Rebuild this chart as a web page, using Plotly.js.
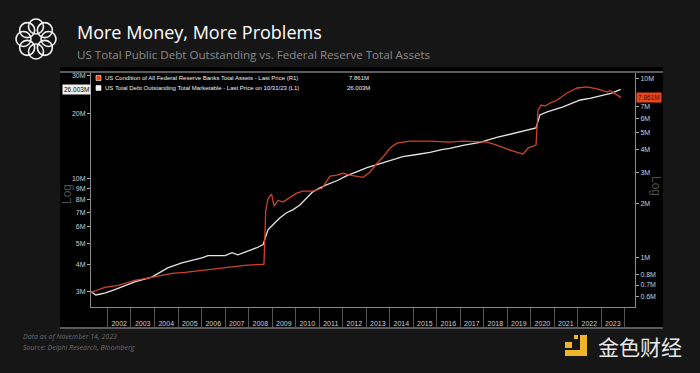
<!DOCTYPE html>
<html>
<head>
<meta charset="utf-8">
<script src="https://cdn.plot.ly/plotly-3.0.1.min.js"></script>
<style>
html,body{margin:0;padding:0;background:#161617;}
#chart{width:700px;height:373px;}
</style>
</head>
<body>
<div id="chart"></div>
<script>
// ---- Data (values in millions of millions, as shown on the chart) ----
const fedDates = ["2001-04-20","2001-11-20","2002-06-15","2003-03-01","2003-11-20","2004-10-01","2005-04-20","2006-01-08","2006-09-10","2007-04-20","2007-11-05","2008-07-25","2008-08-28","2008-09-25","2008-11-01","2008-12-25","2009-02-01","2009-04-05","2009-06-20","2009-10-08","2010-01-20","2010-04-25","2010-09-25","2011-02-15","2011-06-20","2011-10-05","2012-01-08","2012-04-25","2012-08-15","2012-11-15","2013-03-01","2013-06-20","2013-09-20","2014-01-08","2014-04-25","2014-07-25","2014-11-15","2015-09-20","2016-07-25","2017-02-15","2018-02-25","2018-07-25","2019-02-15","2019-07-20","2019-09-05","2019-11-20","2020-02-10","2020-03-25","2020-04-25","2020-06-15","2020-08-15","2020-10-30","2021-02-15","2021-07-20","2021-12-25","2022-05-25","2022-10-30","2023-04-05","2023-05-20","2023-09-05","2023-11-08"];
const fedValues = [0.636,0.678,0.696,0.743,0.772,0.813,0.824,0.845,0.868,0.879,0.902,0.914,0.914,1.836,2.145,2.26,1.935,2.09,2.04,2.17,2.29,2.35,2.35,2.44,2.85,2.89,2.96,2.89,2.85,2.81,3.00,3.37,3.65,4.10,4.37,4.43,4.48,4.48,4.43,4.48,4.43,4.26,3.99,3.84,3.79,4.10,4.20,4.26,6.70,7.14,7.05,7.33,7.62,8.34,8.90,9.02,8.79,8.45,8.62,8.13,7.861];

const debtDates = ["2001-04-20","2001-07-05","2001-11-20","2002-04-25","2003-03-01","2003-11-20","2004-07-25","2005-03-01","2006-01-08","2006-04-10","2007-01-01","2007-04-20","2007-07-20","2008-02-25","2008-05-10","2008-08-15","2008-10-30","2009-01-15","2009-05-05","2009-08-15","2009-11-20","2010-03-10","2010-06-20","2010-09-25","2011-01-15","2011-04-25","2011-10-05","2012-03-10","2012-08-15","2013-01-15","2013-06-20","2014-01-08","2014-07-25","2015-03-01","2015-09-20","2016-04-10","2016-07-25","2017-02-15","2017-11-05","2018-07-25","2019-04-05","2019-12-25","2020-03-25","2020-05-25","2020-09-15","2021-05-20","2022-02-10","2022-07-10","2023-04-05","2023-06-15","2023-10-31"];
const debtValues = [3.00,2.90,2.96,3.07,3.33,3.51,3.87,4.08,4.31,4.41,4.41,4.55,4.45,4.70,4.80,4.96,5.81,6.13,6.61,6.97,7.19,7.57,8.17,8.71,9.09,9.39,9.81,10.35,10.81,11.28,11.65,12.16,12.70,12.98,13.28,13.70,13.85,14.30,14.77,15.57,16.24,16.87,17.24,19.80,20.44,21.56,23.22,23.65,24.71,25.00,26.003];

const years = ["2002","2003","2004","2005","2006","2007","2008","2009","2010","2011","2012","2013","2014","2015","2016","2017","2018","2019","2020","2021","2022","2023"];
const leftTickVals = [3,4,5,6,7,8,9,10,20,30];
const leftTickText = ["3M","4M","5M","6M","7M","8M","9M","10M","20M","30M"];
const rightTickVals = [0.6,0.7,0.8,1,2,3,4,5,6,7,10];
const rightTickText = ["0.6M","0.7M","0.8M","1M","2M","3M","4M","5M","6M","7M","10M"];

const fedName = "US Condition of All Federal Reserve Banks Total Assets - Last Price (R1)";
const debtName = "US Total Debt Outstanding Total Marketable - Last Price on 10/31/23 (L1)";
const fedLast = "7.861M";
const debtLast = "26.003M";

// ---- Layout helpers (pixel -> paper) ----
const W = 700, H = 373, L = 91, R = 65, T = 73, B = 66;
const PW = W - L - R, PH = H - T - B;
const px = x => (x - L) / PW;
const py = y => (H - B - y) / PH;

const yearStarts = years.map(y => y + "-01-01").concat(["2024-01-01"]);
const yearMids = years.map(y => y + "-07-02");

const tickFont = {family: "Liberation Sans, Arial, sans-serif", size: 7, color: "#cfcfcf"};

const traces = [
  {x: debtDates, y: debtValues, type: "scatter", mode: "lines", name: debtName,
   line: {color: "#e4e4e4", width: 1.3}, yaxis: "y", hoverinfo: "skip"},
  {x: fedDates, y: fedValues, type: "scatter", mode: "lines", name: fedName,
   line: {color: "#cc4329", width: 1.3}, yaxis: "y2", hoverinfo: "skip"}
];

const shapes = [
  // black chart panel
  {type: "rect", xref: "paper", yref: "paper", x0: px(60), x1: px(663), y0: py(327), y1: py(67),
   fillcolor: "#000", line: {width: 0}, layer: "below"},
  // top frame line
  {type: "line", xref: "paper", yref: "paper", x0: px(60), x1: px(663), y0: py(72), y1: py(72),
   line: {color: "#7a7a7a", width: 1.5}},
  // bottom panel border
  {type: "line", xref: "paper", yref: "paper", x0: px(60), x1: px(663), y0: py(328), y1: py(328),
   line: {color: "#5a5a5a", width: 2}},
  // legend swatches
  {type: "rect", xref: "paper", yref: "paper", x0: px(96), x1: px(101), y0: py(80.5), y1: py(75.5),
   fillcolor: "#e8461e", line: {color: "#f5f5f5", width: 0.6}},
  {type: "rect", xref: "paper", yref: "paper", x0: px(96), x1: px(101), y0: py(90.5), y1: py(85.5),
   fillcolor: "#f5f5f5", line: {color: "#f5f5f5", width: 0.6}}
];

// logo: interlocking rings
const lc = {x: 36, y: 39}, ringR = 12.5, cR = 7.5;
for (let i = 0; i < 8; i++) {
  const a = i * Math.PI / 4;
  const cx = lc.x + ringR * Math.cos(a), cy = lc.y + ringR * Math.sin(a);
  shapes.push({type: "circle", xref: "paper", yref: "paper",
    x0: px(cx - cR), x1: px(cx + cR), y0: py(cy + cR), y1: py(cy - cR),
    line: {color: "#f2f2f2", width: 1.6}});
}
// watermark icon (yellow bracket)
const yel = "#f0b429";
[[580, 587, 335, 356], [565, 587, 350, 356], [565, 572, 342, 348], [574, 578, 335, 339]].forEach(r => {
  shapes.push({type: "rect", xref: "paper", yref: "paper", x0: px(r[0]), x1: px(r[1]), y0: py(r[3]), y1: py(r[2]),
    fillcolor: yel, line: {width: 0}});
});

const sfont = {family: "Liberation Sans, Arial, sans-serif", size: 6, color: "#f0f0f0"};
const annotations = [
  {xref: "paper", yref: "paper", x: px(75), y: py(32), xanchor: "left", yanchor: "middle", showarrow: false,
   text: "More Money, More Problems", font: {family: "Open Sans, sans-serif", size: 18, color: "#ffffff"}},
  {xref: "paper", yref: "paper", x: px(75), y: py(54), xanchor: "left", yanchor: "middle", showarrow: false,
   text: "US Total Public Debt Outstanding vs. Federal Reserve Total Assets",
   font: {family: "Open Sans, sans-serif", size: 11.6, color: "#8a8a8a"}},
  // legend
  {xref: "paper", yref: "paper", x: px(103), y: py(78), xanchor: "left", yanchor: "middle", showarrow: false,
   text: fedName, font: sfont},
  {xref: "paper", yref: "paper", x: px(347), y: py(78), xanchor: "left", yanchor: "middle", showarrow: false,
   text: fedLast, font: sfont},
  {xref: "paper", yref: "paper", x: px(103), y: py(88), xanchor: "left", yanchor: "middle", showarrow: false,
   text: debtName, font: sfont},
  {xref: "paper", yref: "paper", x: px(345), y: py(88), xanchor: "left", yanchor: "middle", showarrow: false,
   text: debtLast, font: sfont},
  // last value tags
  {xref: "paper", yref: "y", x: px(76), y: Math.log10(debtValues[debtValues.length - 1]), showarrow: false,
   xanchor: "center", yanchor: "middle",
   text: debtLast, bgcolor: "#f2f2f2", borderpad: 1, font: {family: "Liberation Sans, Arial, sans-serif", size: 6.5, color: "#000"}},
  {xref: "paper", yref: "y2", x: px(649), y: Math.log10(fedValues[fedValues.length - 1]), showarrow: false,
   xanchor: "center", yanchor: "middle",
   text: fedLast, bgcolor: "#e8461e", borderpad: 1, font: {family: "Liberation Sans, Arial, sans-serif", size: 6.5, color: "#4a0b00"}},
  // "Log" axis captions
  {xref: "paper", yref: "paper", x: px(67), y: py(194), showarrow: false, textangle: -90,
   xanchor: "center", yanchor: "middle",
   text: "Log", font: {family: "Liberation Sans, Arial, sans-serif", size: 12, color: "#4d4d4d"}},
  {xref: "paper", yref: "paper", x: px(656), y: py(186), showarrow: false, textangle: 90,
   xanchor: "center", yanchor: "middle",
   text: "Log", font: {family: "Liberation Sans, Arial, sans-serif", size: 12, color: "#4d4d4d"}},
  // footer
  {xref: "paper", yref: "paper", x: px(21), y: py(336), xanchor: "left", yanchor: "middle", showarrow: false,
   text: "<i>Data as of November 14, 2023</i>", font: {family: "Open Sans, sans-serif", size: 7, color: "#6a6a6a"}},
  {xref: "paper", yref: "paper", x: px(21), y: py(347), xanchor: "left", yanchor: "middle", showarrow: false,
   text: "<i>Source: Delphi Research, Bloomberg</i>", font: {family: "Open Sans, sans-serif", size: 7, color: "#6a6a6a"}},
  // watermark text
  {xref: "paper", yref: "paper", x: px(596), y: py(346), xanchor: "left", yanchor: "middle", showarrow: false,
   text: "金色财经", font: {family: "Noto Sans CJK SC, sans-serif", size: 21, color: "#e8e8e8"}}
];

const layout = {
  width: W, height: H,
  margin: {l: L, r: R, t: T, b: B, pad: 0},
  paper_bgcolor: "#161617",
  plot_bgcolor: "#000000",
  showlegend: false,
  xaxis: {
    type: "date",
    range: ["2001-04-20", "2024-06-10"],
    tickmode: "array", tickvals: yearMids, ticktext: years,
    ticks: "outside", ticklen: 10, tickcolor: "rgba(0,0,0,0)",
    tickfont: tickFont,
    showgrid: false, zeroline: false,
    showline: true, linecolor: "#8a8a8a", linewidth: 1,
    minor: {tickmode: "array", tickvals: yearStarts, ticks: "outside", ticklen: 20, tickcolor: "#555", tickwidth: 1, showgrid: false}
  },
  yaxis: {
    type: "log",
    range: [Math.log10(2.55), Math.log10(30.97)],
    tickmode: "array", tickvals: leftTickVals, ticktext: leftTickText,
    ticks: "outside", ticklen: 3, tickcolor: "#aaa",
    tickfont: tickFont,
    showgrid: false, zeroline: false,
    showline: true, linecolor: "#8a8a8a", linewidth: 1
  },
  yaxis2: {
    type: "log", overlaying: "y", side: "right",
    range: [Math.log10(0.527), Math.log10(10.8)],
    tickmode: "array", tickvals: rightTickVals, ticktext: rightTickText,
    ticks: "outside", ticklen: 3, tickcolor: "#aaa",
    tickfont: tickFont,
    showgrid: false, zeroline: false,
    showline: true, linecolor: "#8a8a8a", linewidth: 1
  },
  shapes: shapes,
  annotations: annotations
};

Plotly.newPlot("chart", traces, layout, {displayModeBar: false, staticPlot: true});
</script>
</body>
</html>
